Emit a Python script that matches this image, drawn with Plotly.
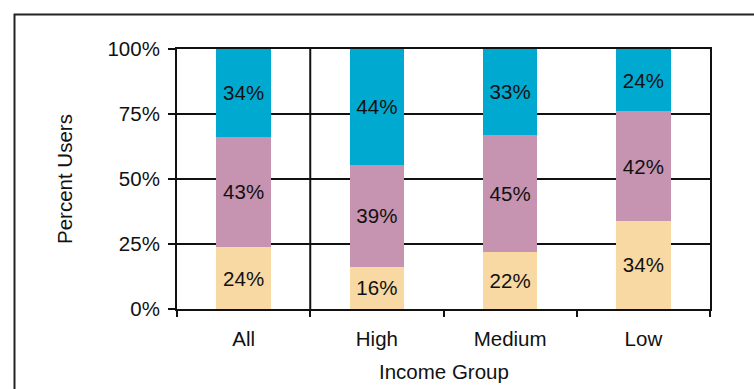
import plotly.graph_objects as go

categories = ["All", "High", "Medium", "Low"]
bottom_vals = [24, 16, 22, 34]
middle_vals = [43, 39, 45, 42]
top_vals = [34, 44, 33, 24]
y_ticks = [0, 25, 50, 75, 100]
y_tick_text = ["0%", "25%", "50%", "75%", "100%"]

colors = ["#F8D8A3", "#C693B0", "#00A9D0"]
FONT = "Liberation Sans, Arial, sans-serif"
FS = 20.5

W, H = 754, 389
L, R, T, B = 177, 44, 49, 80
pw, ph = W - L - R, H - T - B

fig = go.Figure()
for vals, col in zip([bottom_vals, middle_vals, top_vals], colors):
    fig.add_trace(go.Bar(
        x=categories, y=vals, marker=dict(color=col, line=dict(width=0)),
        width=0.41,
        text=[f"{v}%" for v in vals], textposition="inside",
        insidetextanchor="middle", textangle=0, constraintext="none",
        textfont=dict(family=FONT, size=FS, color="#111111"),
        hoverinfo="skip", showlegend=False,
    ))

grid_shapes = [
    dict(type="line", xref="paper", yref="y", x0=0, x1=1, y0=v, y1=v,
         line=dict(color="#111111", width=2), layer="below")
    for v in y_ticks[1:-1]
]

fig.update_layout(
    width=W, height=H, barmode="stack", barnorm="percent",
    margin=dict(l=L, r=R, t=T, b=B, autoexpand=False),
    paper_bgcolor="white", plot_bgcolor="white",
    font=dict(family=FONT, size=FS, color="#111111"),
    xaxis=dict(type="category", showline=True, linecolor="#111111", linewidth=2,
               mirror=True, ticks="outside", tickson="boundaries", ticklen=6,
               tickwidth=1.5, tickcolor="#111111", showgrid=False,
               ticklabelstandoff=10, tickfont=dict(size=FS), automargin=False),
    yaxis=dict(range=[0, 100], tickvals=y_ticks, ticktext=y_tick_text,
               showline=True, linecolor="#111111", linewidth=2, mirror=True,
               ticks="outside", ticklen=7, tickwidth=1.5, tickcolor="#111111",
               showgrid=False, ticklabelstandoff=4,
               zeroline=False, tickfont=dict(size=FS), automargin=False),
    shapes=grid_shapes + [
        dict(type="line", xref="x", yref="paper", x0=0.5, x1=0.5, y0=0, y1=1,
             line=dict(color="#111111", width=2)),
        dict(type="rect", xref="paper", yref="paper",
             x0=(14.5 - L) / pw, x1=(W + 10 - L) / pw,
             y0=-(B + 10) / ph, y1=(H - B - 14.5) / ph,
             line=dict(color="#222222", width=2), fillcolor="rgba(0,0,0,0)",
             layer="below"),
    ],
    annotations=[
        dict(text="Income Group", xref="paper", yref="paper", x=0.5,
             y=-(371 - (H - B)) / ph, xanchor="center", yanchor="middle",
             showarrow=False, font=dict(size=FS)),
        dict(text="Percent Users", xref="paper", yref="paper",
             x=(64 - L) / pw, y=0.5, textangle=-90, xanchor="center",
             yanchor="middle", showarrow=False, font=dict(size=FS)),
    ],
)

fig.write_html("out.html")
